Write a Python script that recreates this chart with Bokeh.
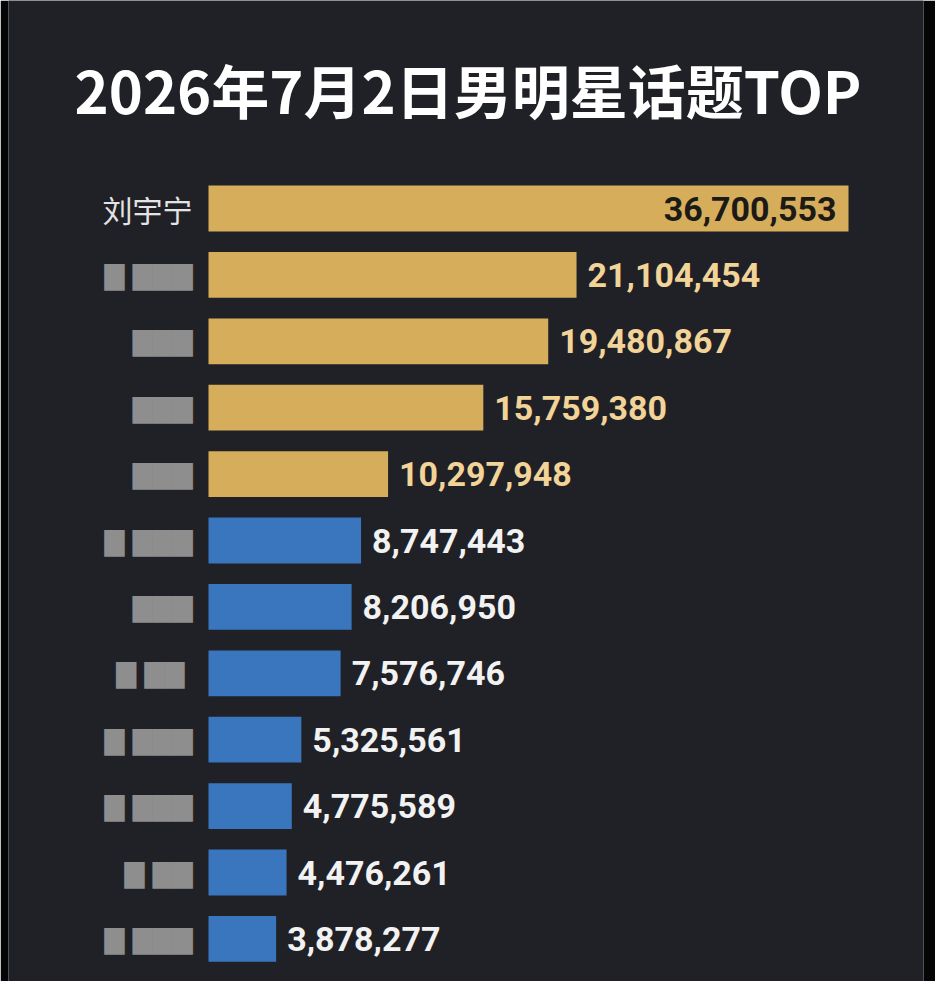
from bokeh.plotting import figure
from bokeh.models import ColumnDataSource, Range1d, Label
from bokeh.core.properties import value
from bokeh.embed import file_html
from bokeh.resources import INLINE

title_text = "2026年7月2日男明星话题TOP"
names = ["刘宇宁", "▇ ▇▇▇", "▇▇▇", "▇▇▇", "▇▇▇", "▇ ▇▇▇", "▇▇▇",
         "▇  ▇▇", "▇ ▇▇▇", "▇ ▇▇▇", "▇ ▇▇", "▇ ▇▇▇"]
values = [36700553, 21104454, 19480867, 15759380, 10297948, 8747443,
          8206950, 7576746, 5325561, 4775589, 4476261, 3878277]
group = ["gold"] * 5 + ["blue"] * 7

GOLD = "#d6ad5b"
BLUE = "#3a76bd"
BG = "#202126"

W, H = 935, 981
LEFT_B, RIGHT_B = 8, 12
FW = W - LEFT_B - RIGHT_B
BAR0 = 200
BAR_MAX = 640
k = BAR_MAX / max(values)
ROW = 66.4
FIRST = 208

x_range = Range1d(-BAR0 / k, (FW - BAR0) / k)
y_range = Range1d((H - FIRST) / ROW, -FIRST / ROW)

rows = list(range(len(values)))
bar_colors = [GOLD if g == "gold" else BLUE for g in group]
lab_colors, lab_align, lab_off = [], [], []
for i, v in enumerate(values):
    if i == 0:
        lab_colors.append("#1b1a17"); lab_align.append("right"); lab_off.append(-12)
    else:
        lab_colors.append("#f2d398" if group[i] == "gold" else "#f2f2f2")
        lab_align.append("left"); lab_off.append(11)
lab_text = [f"{v:,}" for v in values]

src = ColumnDataSource(dict(y=rows, v=values, c=bar_colors, lc=lab_colors,
                            lt=lab_text, la=lab_align, lo=lab_off,
                            nm=names,
                            nc=["#e4e4e4"] + ["#8e8e8e"] * (len(names) - 1),
                            nf=["Noto Sans CJK SC"] + ["DejaVu Sans"] * (len(names) - 1),
                            ns=["30px"] + ["26px"] * (len(names) - 1)))

p = figure(width=W, height=H, x_range=x_range, y_range=y_range,
           output_backend="svg", toolbar_location=None,
           min_border_left=LEFT_B, min_border_right=RIGHT_B,
           min_border_top=0, min_border_bottom=0,
           background_fill_color=BG, border_fill_color="#050506",
           outline_line_color=None)
p.axis.visible = False
p.grid.visible = False

p.hbar(y="y", left=0, right="v", height=0.69, fill_color="c",
       line_color=None, source=src)

p.text(x="v", y="y", text="lt", text_color="lc", text_align="la",
       x_offset="lo", text_baseline="middle",
       text_font=value("Roboto"), text_font_style="bold",
       text_font_size="34px", source=src)

p.text(x=-16 / k, y="y", text="nm", text_color="nc", text_align="right",
       text_baseline="middle", text_font="nf", text_font_size="ns",
       source=src)

title = Label(x=(W / 2 - LEFT_B - BAR0) / k, y=(88 - FIRST) / ROW,
              text=title_text, text_align="center", text_baseline="middle",
              text_color="#ffffff", text_font="Noto Sans CJK SC",
              text_font_style="bold", text_font_size="58px")
p.add_layout(title)

open("out.html", "w").write(file_html(p, INLINE))
